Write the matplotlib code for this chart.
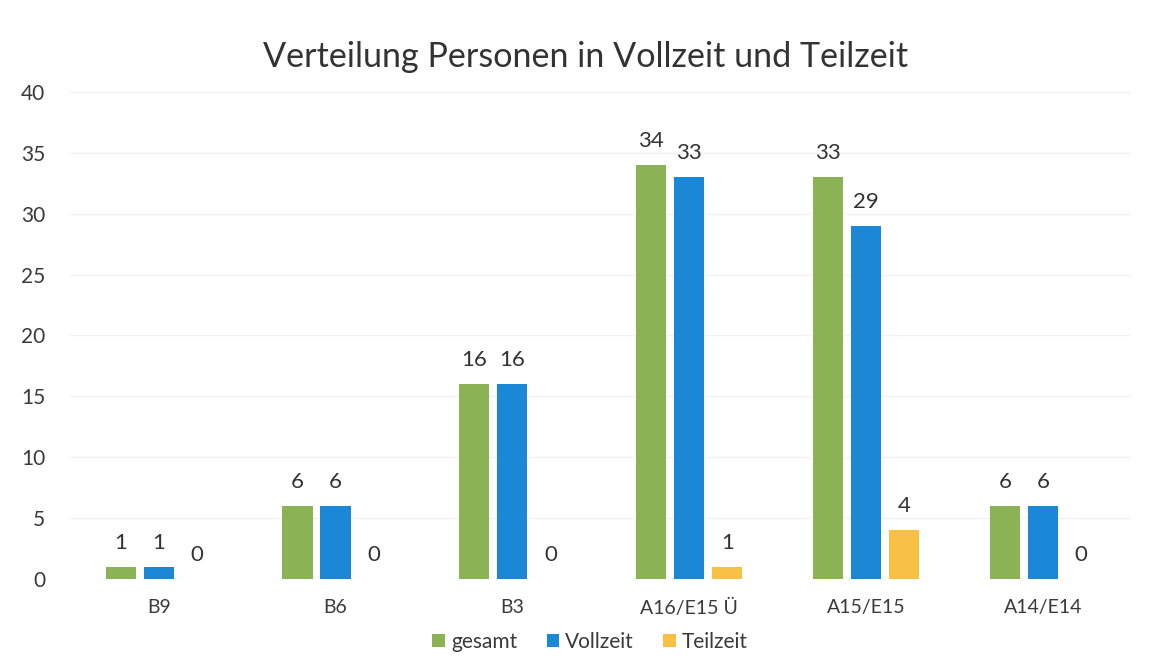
import numpy as np
from matplotlib import pyplot as plt

categories = ['B9', 'B6', 'B3', 'A16/E15 Ü', 'A15/E15', 'A14/E14']
gesamt = [1, 6, 16, 34, 33, 6]
vollzeit = [1, 6, 16, 33, 29, 6]
teilzeit = [0, 0, 0, 1, 4, 0]

plt.rcParams['font.family'] = ['Lato', 'DejaVu Sans']
fig = plt.figure(figsize=(11.51, 6.65), dpi=100)
ax = fig.add_axes([0.061, 0.129, 0.922, 0.733])

x = np.arange(len(categories))
w = 0.17
off = 0.215
series = [(gesamt, '#8BB255', 'gesamt'), (vollzeit, '#1A88D6', 'Vollzeit'),
          (teilzeit, '#F8C146', 'Teilzeit')]
for i, (vals, col, lab) in enumerate(series):
    pos = x + (i - 1) * off
    ax.bar(pos, vals, w, color=col, label=lab, zorder=2)
    for p, v in zip(pos, vals):
        ax.text(p, v + 1.15, str(v), ha='center', va='bottom', fontsize=16, color='#333333')

ax.set_xlim(-0.5, len(categories) - 0.5)
ax.set_ylim(0, 40)
ax.set_yticks(range(0, 41, 5))
ax.set_xticks(x)
ax.set_xticklabels(categories)
ax.tick_params(axis='both', length=0, labelsize=14, colors='#3a3a3a')
ax.tick_params(axis='y', labelsize=15, pad=18)
ax.tick_params(axis='x', pad=14)
ax.grid(axis='y', color='#F2F2F2', linewidth=1, zorder=0)
for s in ax.spines.values():
    s.set_visible(False)

ax.set_title('Verteilung Personen in Vollzeit und Teilzeit', fontsize=24.6, color='#333333',
             pad=18, x=0.486)
ax.legend(loc='upper center', bbox_to_anchor=(0.49, -0.07), ncol=3, frameon=False,
          fontsize=15, handlelength=0.6, handleheight=0.6, handletextpad=0.3,
          columnspacing=1.4, labelcolor='#3a3a3a')

plt.savefig('out.png')
